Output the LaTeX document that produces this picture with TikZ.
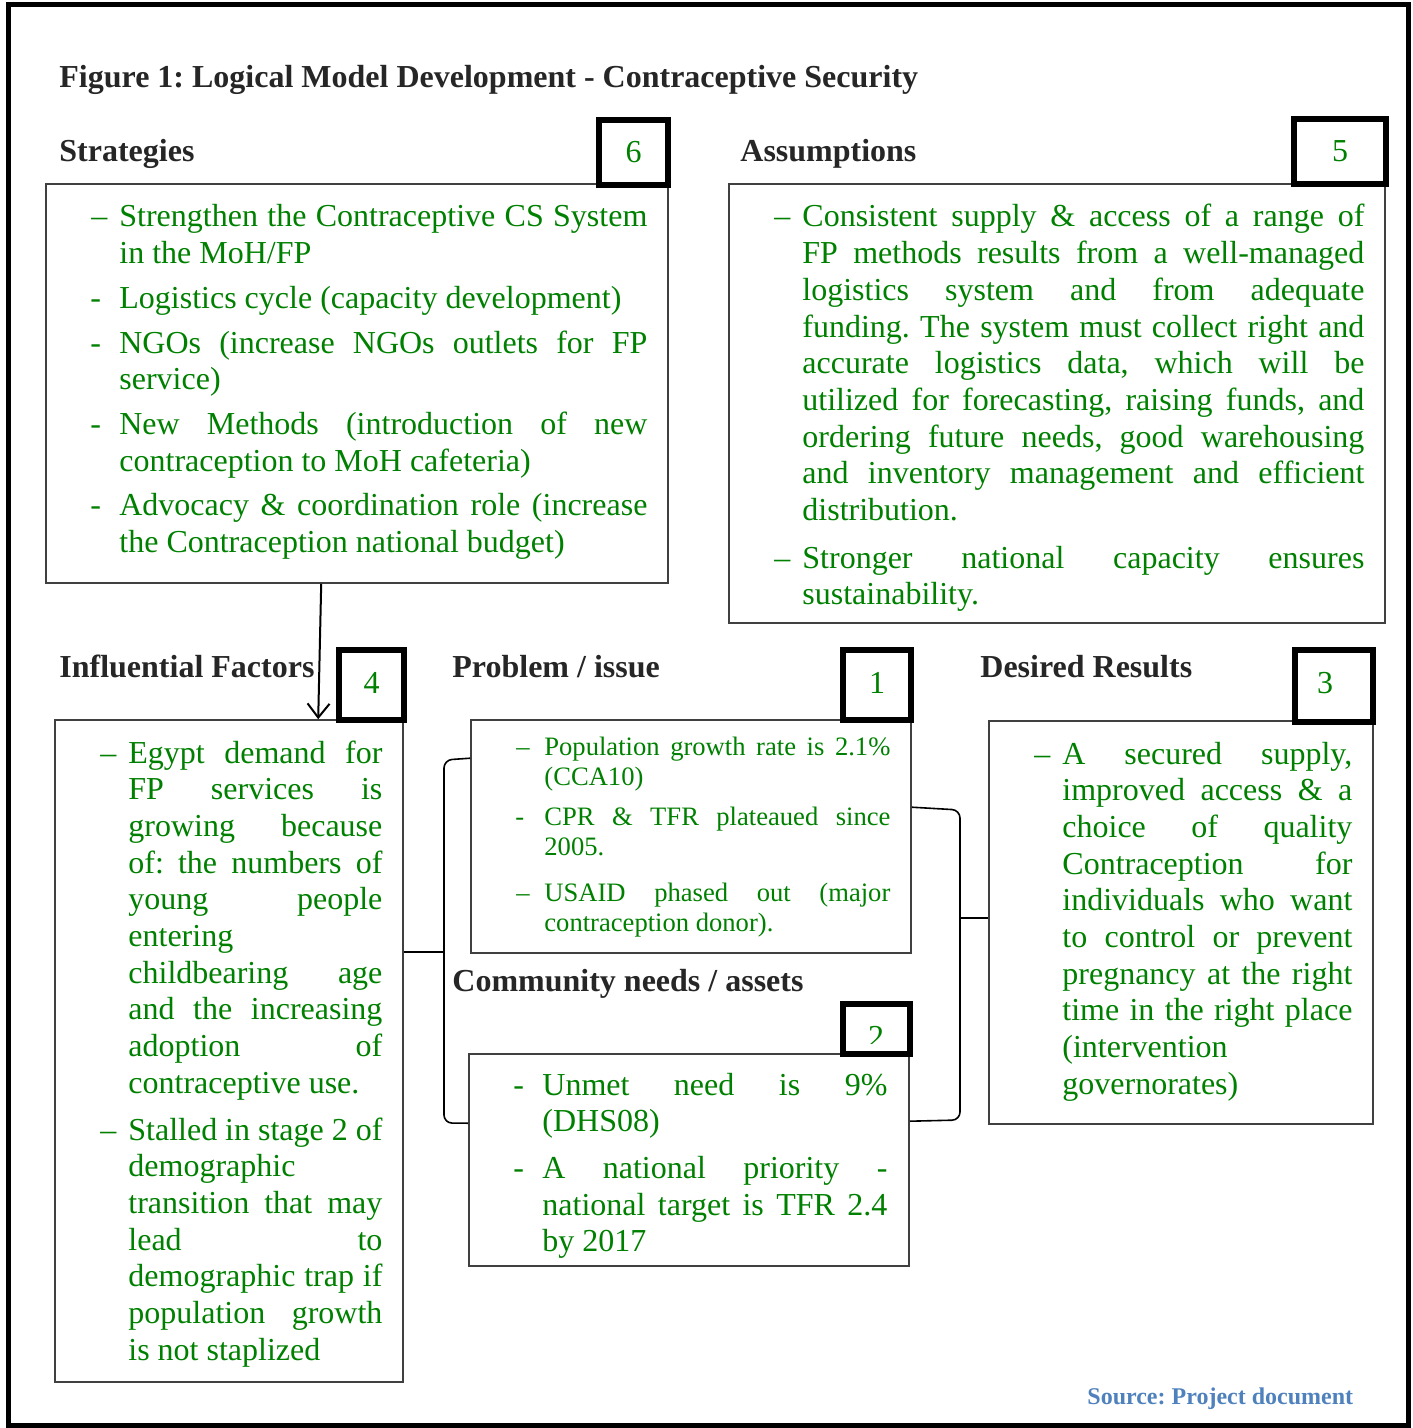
\documentclass[tikz,border=0pt]{standalone}
\usepackage{fontspec}
\setmainfont{Liberation Serif}
\usetikzlibrary{fit,calc,arrows.meta}
\definecolor{txtgreen}{RGB}{0,128,0}
\definecolor{headgray}{RGB}{38,38,38}
\definecolor{linegray}{RGB}{64,64,64}
\definecolor{srcblue}{RGB}{79,129,189}
\newcommand\ndash{\leavevmode\llap{\hbox to 14pt{\textendash\hfil}}\ignorespaces}
\newcommand\nhyph{\leavevmode\llap{\hbox to 14.5pt{-\hfil}}\ignorespaces}
\tolerance=10000 \hbadness=10000
\frenchspacing
\begin{document}
\begin{tikzpicture}[x=0.5pt,y=-0.5pt,
  box/.style={draw=linegray,line width=0.8pt,inner sep=0pt},
  numbox/.style={draw=black,line width=2.6pt,inner sep=0pt},
  numtxt/.style={inner sep=0pt,text=txtgreen,font=\fontsize{16}{18}\selectfont},
  head/.style={anchor=base west,inner sep=0pt,text=headgray,font=\fontsize{16}{18}\selectfont\bfseries},
  body/.style={anchor=base west,inner sep=0pt,text=txtgreen,align=justify,font=\fontsize{16}{18.35}\selectfont},
  small/.style={body,font=\fontsize{13.3}{15}\selectfont},
  link/.style={draw=black,line width=0.8pt,rounded corners=4pt}]
\useasboundingbox (0,0) rectangle (1412,1428);
\draw[line width=2.5pt] (8,5) rectangle (1408,1425);

\node[head] (title) at (59,88) {Figure 1: Logical Model Development - Contraceptive Security};
\node[head] (hStrat) at (59,162) {Strategies};
\node[head] (hAssum) at (740,162) {Assumptions};
\node[head] (hInfl) at (59,677) {Influential Factors};
\node[head] (hProb) at (452,677) {Problem / issue};
\node[head] (hDesir) at (980,677) {Desired Results};
\node[head] (hComm) at (452,991) {Community needs / assets};

\node[box,fit={(46,184)(668,583)}] (strat) {};
\node[box,fit={(729,184)(1385,623)}] (assum) {};
\node[box,fit={(55,720)(403,1382)}] (infl) {};
\node[box,fit={(471,720)(911,953)}] (prob) {};
\node[box,fit={(469,1054)(909,1266)}] (comm) {};
\node[box,fit={(989,721)(1373,1124)}] (desir) {};

\node[numbox,fit={(599,120)(668,185)}] (n6) {};
\node[numbox,fit={(1294,119)(1386,184)}] (n5) {};
\node[numbox,fit={(339,650)(404,720)}] (n4) {};
\node[numbox,fit={(843,650)(911,720)}] (n1) {};
\node[numbox,fit={(1295,650)(1373,722)}] (n3) {};
\node[numbox,fit={(843,1004)(910,1054)}] (n2) {};
\node[numtxt] (n6txt) at (n6.center) {6};
\node[numtxt] (n5txt) at (n5.center) {5};
\node[numtxt] (n4txt) at ($(n4.center)+(0,-2)$) {4};
\node[numtxt] (n1txt) at ($(n1.center)+(0,-2)$) {1};
\node[numtxt] (n3txt) at ($(n3.center)+(-9,-3)$) {3};
\begin{scope}
\clip (846,1008) rectangle (907,1043);
\node[numtxt] (n2txt) at (876,1037) {2};
\end{scope}

\node[body,text width=264pt] (stratTxt) at (119,227) {\setlength\parskip{4pt}%
\ndash Strengthen the Contraceptive CS System\linebreak in the MoH/FP\par
\nhyph Logistics cycle (capacity development)\par
\nhyph NGOs (increase NGOs outlets for FP\linebreak service)\par
\nhyph New Methods (introduction of new\linebreak contraception to MoH cafeteria)\par
\nhyph Advocacy \& coordination role (increase\linebreak the Contraception national budget)};

\node[body,text width=281pt] (assumTxt) at (802,227) {\setlength\parskip{5.5pt}%
\ndash Consistent supply \& access of a range of\linebreak FP methods results from a well-managed\linebreak logistics system and from adequate\linebreak funding. The system must collect right and\linebreak accurate logistics data, which will be\linebreak utilized for forecasting, raising funds, and\linebreak ordering future needs, good warehousing\linebreak and inventory management and efficient\linebreak distribution.\par
\ndash Stronger national capacity ensures\linebreak sustainability.};

\node[body,text width=127pt] (inflTxt) at (128,763) {\setlength\parskip{5pt}%
\ndash Egypt demand for\linebreak FP services is\linebreak growing because\linebreak of: the numbers of\linebreak young people\linebreak entering\newline childbearing age\linebreak and the increasing\linebreak adoption of\linebreak contraceptive use.\par
\ndash Stalled in stage 2 of\linebreak demographic\newline transition that may\linebreak lead to\linebreak demographic trap if\linebreak population growth\linebreak is not staplized};

\node[small,text width=173pt] (probTxt) at (544,755) {\setlength\parskip{5pt}%
\ndash Population growth rate is 2.1\%\linebreak (CCA10)\par
\nhyph CPR \& TFR plateaued since\linebreak 2005.\par\vspace{3pt}
\ndash USAID phased out (major\linebreak contraception donor).};

\node[body,text width=172.5pt] (commTxt) at (542,1095) {\setlength\parskip{5pt}%
\nhyph Unmet need is 9\%\linebreak (DHS08)\par
\nhyph A national priority -\linebreak national target is TFR 2.4\linebreak by 2017};

\node[body,text width=145pt] (desirTxt) at (1062,764) {%
\ndash A secured supply,\linebreak improved access \& a\linebreak choice of quality\linebreak Contraception for\linebreak individuals who want\linebreak to control or prevent\linebreak pregnancy at the right\linebreak time in the right place\linebreak (intervention\newline governorates)};

\draw[line width=1pt,-{Straight Barb[length=7pt,width=11pt]}] ($(strat.south west)+(276,0)$) -- ($(infl.north west)+(264,0)$);

\coordinate (lbrk) at (444,952);
\draw[link] (infl.east |- lbrk) -- (lbrk);
\draw[link] ($(prob.north west)+(0,39)$) -- (lbrk |- 0,760) -- (lbrk |- 0,1123) -- ($(comm.north west)+(0,70)$);

\coordinate (rbrk) at (960,918);
\draw[link] ($(prob.north east)+(0,88)$) -- (rbrk |- 0,810) -- (rbrk |- 0,1120) -- ($(comm.north east)+(0,68)$);
\draw[link] (rbrk) -- (desir.west |- rbrk);

\node[anchor=base west,inner sep=0pt,text=srcblue,font=\fontsize{12}{14}\selectfont\bfseries] (src) at (1087,1404) {Source: Project document};
\end{tikzpicture}
\end{document}
